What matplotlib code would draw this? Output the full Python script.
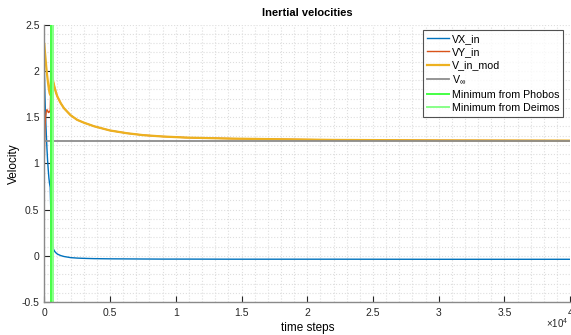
import matplotlib
matplotlib.use('Agg')
import matplotlib.pyplot as plt
from matplotlib.ticker import MultipleLocator

plt.rcParams['font.family'] = ['Liberation Sans', 'DejaVu Sans']
plt.rcParams['mathtext.fontset'] = 'custom'
plt.rcParams['mathtext.rm'] = 'Liberation Sans'

#time steps (denser at the start where things change fast)
t = [0, 50, 100, 150, 200, 250, 300, 350, 400, 450, 500, 530, 560, 600, 650, 700,
     800, 900, 1000, 1250, 1500, 2000, 2500, 3000, 3800, 5000, 6300, 7500, 9000,
     10800, 14300, 18000, 22000, 30000, 40000]

vx_in = [2.04, 1.72, 1.50, 1.32, 1.16, 1.03, 0.93, 0.84, 0.78, 0.74, 0.45, 0.30, 0.19,
         0.13, 0.095, 0.07, 0.045, 0.03, 0.018, 0.002, -0.008, -0.02, -0.025, -0.028,
         -0.031, -0.033, -0.034, -0.035, -0.036, -0.036, -0.037, -0.037, -0.037,
         -0.038, -0.038]

vy_in = [1.05, 1.37, 1.50, 1.56, 1.58, 1.57, 1.55, 1.55, 1.56, 1.57, 1.85, 1.97, 1.95,
         1.93, 1.90, 1.87, 1.81, 1.76, 1.72, 1.65, 1.595, 1.52, 1.47, 1.44, 1.40, 1.355,
         1.325, 1.305, 1.29, 1.278, 1.267, 1.26, 1.253, 1.248, 1.245]

v_in_mod = [2.29, 2.20, 2.12, 2.04, 1.97, 1.91, 1.85, 1.80, 1.76, 1.74, 1.90, 1.99, 1.96,
            1.93, 1.90, 1.87, 1.81, 1.76, 1.72, 1.65, 1.595, 1.52, 1.47, 1.44, 1.40,
            1.355, 1.325, 1.305, 1.29, 1.278, 1.267, 1.26, 1.253, 1.248, 1.245]

v_inf = 1.242
t_phobos = 480
t_deimos = 680

xticks = [0, 5000, 10000, 15000, 20000, 25000, 30000, 35000, 40000]
xticklabels = ['0', '0.5', '1', '1.5', '2', '2.5', '3', '3.5', '4']
yticks = [-0.5, 0, 0.5, 1, 1.5, 2, 2.5]
yticklabels = ['-0.5', '0', '0.5', '1', '1.5', '2', '2.5']

fig = plt.figure(figsize=(5.71, 3.35), dpi=100)
ax = fig.add_axes([0.0776, 0.0985, 0.921, 0.828])

ax.plot(t, vx_in, color='#0072BD', lw=1.0, label='VX_in')
ax.plot(t, vy_in, color='#D95319', lw=1.0, label='VY_in')
ax.plot(t, v_in_mod, color='#EDB120', lw=1.6, label='V_in_mod')
ax.axhline(v_inf, color='#8c8c8c', lw=1.3, label=r'V$_{\mathregular{\infty}}$')
ax.axvline(t_phobos, color='#44ff44', lw=1.4, label='Minimum from Phobos')
ax.axvline(t_deimos, color='#88ff88', lw=1.4, label='Minimum from Deimos')

ax.set_xlim(0, 40000)
ax.set_ylim(-0.5, 2.5)
ax.set_xticks(xticks)
ax.set_xticklabels(xticklabels)
ax.set_yticks(yticks)
ax.set_yticklabels(yticklabels)
ax.xaxis.set_minor_locator(MultipleLocator(1000))
ax.yaxis.set_minor_locator(MultipleLocator(0.1))

#matlab-ish look
ax.grid(which='both', color='#dedede', linestyle=':', linewidth=0.8)
ax.set_axisbelow(True)
ax.tick_params(which='major', direction='in', length=4, width=0.8, colors='#262626',
               labelsize=7.5, labelcolor='#262626')
ax.tick_params(axis='x', pad=4)
ax.tick_params(which='minor', length=0)
for s in ['top', 'right']:
    ax.spines[s].set_visible(False)
for s in ['left', 'bottom']:
    ax.spines[s].set_color('#8a8a8a')
    ax.spines[s].set_linewidth(1.0)

ax.set_title('Inertial velocities', fontsize=8, fontweight='bold', pad=6)
ax.set_xlabel('time steps', fontsize=8.5, labelpad=3)
ax.set_ylabel('Velocity', fontsize=8.5, labelpad=1)
fig.text(0.957, 0.022, r'$\times 10^4$', fontsize=7, color='#262626')

leg = ax.legend(loc='upper right', bbox_to_anchor=(0.986, 0.98), fontsize=7.7,
                frameon=True, fancybox=False, borderpad=0.35, labelspacing=0.3,
                handlelength=2.1, handletextpad=0.2, borderaxespad=0)
leg.get_frame().set_edgecolor('#262626')
leg.get_frame().set_linewidth(0.8)

plt.savefig('out.png', dpi=100)
